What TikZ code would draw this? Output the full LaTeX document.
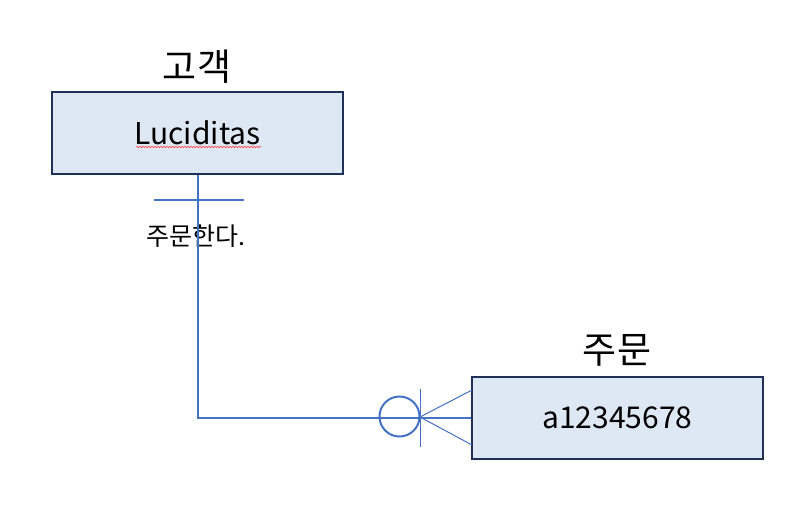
\documentclass[tikz,border=0pt]{standalone}
\usepackage{fontspec}
\setmainfont{Noto Sans CJK KR}
\usepackage{xcolor}
\usepackage{tikz}
\usetikzlibrary{positioning}
\usetikzlibrary{decorations.pathmorphing}
\definecolor{boxfill}{HTML}{DEE8F4}
\definecolor{boxline}{HTML}{1F3158}
\definecolor{relline}{HTML}{4472C4}

\begin{document}
\begin{tikzpicture}[x=1pt,y=-1pt,
    entity/.style={draw=boxline,fill=boxfill,line width=2pt,minimum width=291pt,minimum height=82pt,inner sep=0pt,font=\fontsize{30}{34}\selectfont},
    title/.style={font=\fontsize{37}{40}\selectfont,inner sep=0pt},
    rel/.style={draw=relline,line width=2pt},
    foot/.style={draw=relline,line width=1pt}]
\useasboundingbox (0,0) rectangle (804,515);

    \node [entity] (cust) at (197.5,133) {Luciditas};
    \node [entity] (order) at (617.5,417.5) {a12345678};
    \node [title] (custtitle) at (197,67) {고객};
    \node [title] (ordertitle) at (617,350) {주문};
    \node [font=\fontsize{25}{28}\selectfont,inner sep=0pt] (verb) at (195.5,236) {주문한다.};

    % spell-check squiggle
    \draw [red!80,line width=0.5pt,decorate,decoration={snake,amplitude=0.8pt,segment length=3pt}] (136,147) -- (261,147);

    % relation line
    \draw [rel] (cust.south) |- (order.west);

    % one side
    \coordinate (t1) at (154,200);
    \coordinate (t2) at (244,200);
    \draw [rel] (t1) -- (t2);

    % zero or many side
    \coordinate (c) at (399.5,416.5);
    \coordinate (b1) at (420,389);
    \coordinate (b2) at (420,447);
    \coordinate (f) at (420,417);
    \coordinate (f1) at (472,390);
    \coordinate (f2) at (472,445);
    \draw [rel] (c) circle (20);
    \draw [foot] (b1) -- (b2);
    \draw [foot] (f) -- (f1);
    \draw [foot] (f) -- (f2);

\end{tikzpicture}
\end{document}
